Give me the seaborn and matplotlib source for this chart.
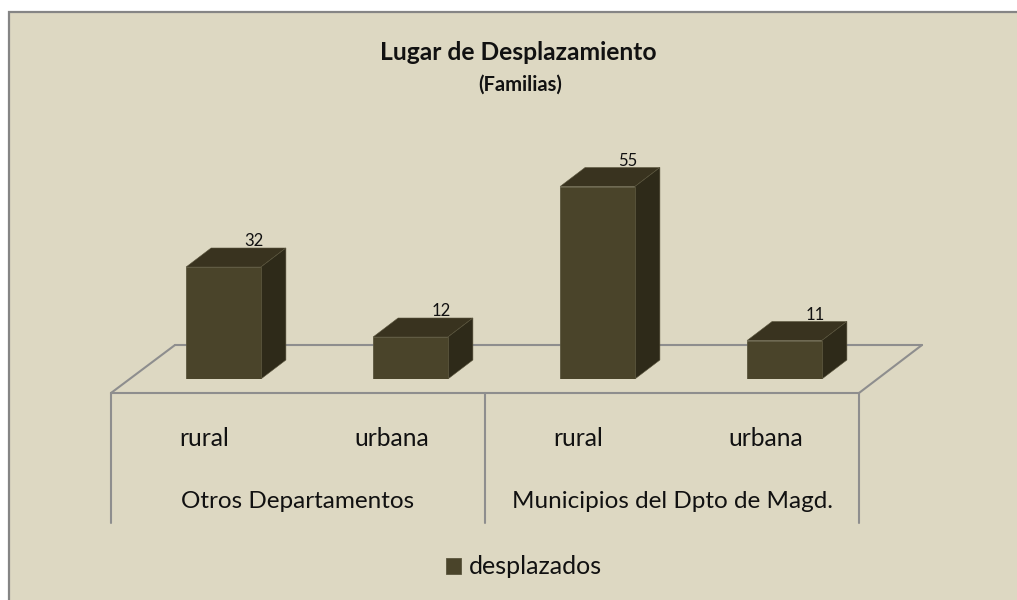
import matplotlib
matplotlib.use("Agg")
import matplotlib.pyplot as plt
from matplotlib.lines import Line2D
from matplotlib.patches import Polygon, Rectangle
import pandas as pd
import seaborn as sns

grupos = ["Otros Departamentos", "Otros Departamentos", "Municipios del Dpto de Magd.", "Municipios del Dpto de Magd."]
categorias = ["rural", "urbana", "rural", "urbana"]
valores = [32, 12, 55, 11]
serie = "desplazados"
titulo = "Lugar de Desplazamiento"
subtitulo = "(Familias)"

W, H = 1017, 600
FONDO = "#DDD8C2"
FRENTE = "#4A442A"
ARRIBA = "#39331F"
LADO = "#2E2A19"
BORDE = "#5A553D"
LINEA = "#8E8E8E"
TEXTO = "#111111"
FUENTE = "Lato"

sns.set_theme(style="white")
plt.rcParams["font.family"] = [FUENTE, "DejaVu Sans"]

df = pd.DataFrame({"grupo": grupos, "categoria": categorias, "valor": valores})
df["clave"] = df["grupo"] + "/" + df["categoria"]


def fx(x):
    return x / W


def fy(y):
    return 1 - y / H


fig = plt.figure(figsize=(W / 100, H / 100), dpi=100, facecolor="white")

# panel, el borde derecho e inferior quedan fuera de la imagen
fig.add_artist(Rectangle((fx(9), -0.02), 1.02 - fx(9), fy(12) + 0.02, transform=fig.transFigure,
                         facecolor=FONDO, edgecolor="#858585", linewidth=1.6, zorder=-5))


def linea(x0, y0, x1, y1):
    fig.add_artist(Line2D([fx(x0), fx(x1)], [fy(y0), fy(y1)], transform=fig.transFigure,
                          color=LINEA, linewidth=1.5, zorder=-2))


# suelo 3d y divisiones del eje
linea(111, 393, 859, 393)
linea(175, 345, 922, 345)
linea(111, 393, 175, 345)
linea(859, 393, 922, 345)
for xp in [111, 485, 859]:
    linea(xp, 393, xp, 523)

# ejes de las barras, desplazados por la profundidad
AX_L, AX_R, AX_BASE, PX_UNIDAD = 130, 878, 379, 3.5
YMAX = 70
ax = fig.add_axes([fx(AX_L), fy(AX_BASE), (AX_R - AX_L) / W, YMAX * PX_UNIDAD / H])
ax.patch.set_visible(False)
sns.barplot(data=df, x="clave", y="valor", color=FRENTE, saturation=1, width=0.4,
            edgecolor=BORDE, linewidth=0.6, zorder=3, label=serie, ax=ax)
ax.set_ylim(0, YMAX)
ax.set_xlim(-0.5, len(valores) - 0.5)
ax.set_axis_off()

DX_PX, DY_PX = 25, 19
dx = DX_PX / ((AX_R - AX_L) / len(valores))
dy = DY_PX / PX_UNIDAD
for barra, v in zip(ax.patches, valores):
    x0, x1 = barra.get_x(), barra.get_x() + barra.get_width()
    ax.add_patch(Polygon([(x0, v), (x1, v), (x1 + dx, v + dy), (x0 + dx, v + dy)],
                         facecolor=ARRIBA, edgecolor=BORDE, linewidth=0.4, zorder=2))
    ax.add_patch(Polygon([(x1, 0), (x1 + dx, dy), (x1 + dx, v + dy), (x1, v)],
                         facecolor=LADO, edgecolor=BORDE, linewidth=0.4, zorder=2))
    ax.annotate(str(v), (x1, v), xytext=(-7, 26), textcoords="offset pixels", ha="center",
                va="center", fontsize=12, color=TEXTO, annotation_clip=False)

# etiquetas de categoria (sin el desplazamiento 3d)
for i, cat in enumerate(categorias):
    fig.text(fx(111 + 187 * (i + 0.5)), fy(438), cat, ha="center", va="center",
             fontsize=17.7, color=TEXTO)
for xc, g in zip([298, 672], [grupos[0], grupos[2]]):
    fig.text(fx(xc), fy(502), g, ha="center", va="center", fontsize=17.5, color=TEXTO)

fig.text(fx(518), fy(52), titulo, ha="center", va="center", fontsize=17.7, fontweight="bold", color=TEXTO)
fig.text(fx(520), fy(85), subtitulo, ha="center", va="center", fontsize=14.5, fontweight="bold", color=TEXTO)

ax.legend(loc="center", bbox_to_anchor=(fx(524), fy(567)), bbox_transform=fig.transFigure,
          frameon=False, fontsize=18, handlelength=0.6, handleheight=0.6, handletextpad=0.3,
          labelcolor=TEXTO)

fig.savefig("out.png", dpi=100, facecolor="white")
